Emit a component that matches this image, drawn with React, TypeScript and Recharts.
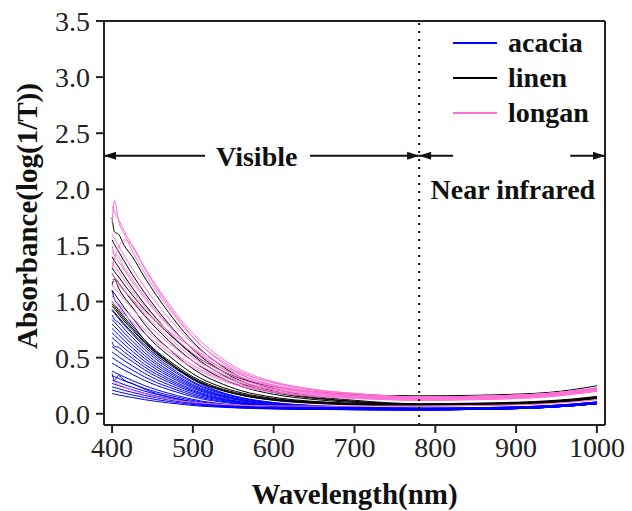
import React from "react";
import { LineChart, Line, XAxis, YAxis, ReferenceLine, ReferenceDot, Legend } from "recharts";

if (typeof document !== "undefined") document.body.style.margin = "0";

const FONT = "'Liberation Serif', 'Times New Roman', serif";

// wavelength grid (nm)
const wavelengths = [400, 403, 408, 415, 425, 440, 455, 470, 490, 510, 530, 560, 600, 650, 700, 780, 850, 900, 940, 970, 1000];

// acacia spectra
const acacia = [
  [0.92, 0.894, 0.85, 0.79, 0.711, 0.598, 0.502, 0.424, 0.328, 0.25, 0.198, 0.141, 0.098, 0.072, 0.059, 0.05, 0.054, 0.061, 0.072, 0.086, 0.105],
  [0.88, 0.84, 0.814, 0.756, 0.681, 0.573, 0.482, 0.407, 0.316, 0.241, 0.191, 0.137, 0.096, 0.071, 0.058, 0.05, 0.054, 0.061, 0.072, 0.086, 0.105],
  [0.84, 0.816, 0.776, 0.721, 0.649, 0.546, 0.458, 0.387, 0.299, 0.228, 0.18, 0.128, 0.089, 0.065, 0.053, 0.045, 0.049, 0.056, 0.067, 0.081, 0.1],
  [0.8, 0.777, 0.74, 0.687, 0.619, 0.521, 0.438, 0.37, 0.287, 0.219, 0.173, 0.124, 0.087, 0.064, 0.053, 0.045, 0.049, 0.056, 0.067, 0.081, 0.1],
  [0.76, 0.739, 0.703, 0.653, 0.588, 0.495, 0.417, 0.352, 0.274, 0.209, 0.167, 0.12, 0.084, 0.063, 0.052, 0.045, 0.049, 0.056, 0.067, 0.081, 0.1],
  [0.72, 0.7, 0.666, 0.619, 0.558, 0.47, 0.396, 0.335, 0.261, 0.2, 0.16, 0.116, 0.082, 0.062, 0.052, 0.045, 0.049, 0.056, 0.067, 0.081, 0.1],
  [0.68, 0.661, 0.629, 0.584, 0.526, 0.443, 0.373, 0.315, 0.245, 0.187, 0.149, 0.107, 0.075, 0.056, 0.046, 0.04, 0.044, 0.051, 0.062, 0.076, 0.095],
  [0.64, 0.6, 0.592, 0.55, 0.496, 0.418, 0.352, 0.298, 0.232, 0.178, 0.142, 0.103, 0.073, 0.055, 0.046, 0.04, 0.044, 0.051, 0.062, 0.076, 0.095],
  [0.6, 0.583, 0.555, 0.516, 0.466, 0.393, 0.331, 0.281, 0.219, 0.169, 0.135, 0.099, 0.071, 0.054, 0.046, 0.04, 0.044, 0.051, 0.062, 0.076, 0.095],
  [0.55, 0.535, 0.509, 0.474, 0.428, 0.361, 0.305, 0.259, 0.203, 0.157, 0.127, 0.094, 0.068, 0.053, 0.045, 0.04, 0.044, 0.051, 0.062, 0.076, 0.095],
  [0.5, 0.486, 0.463, 0.431, 0.39, 0.33, 0.279, 0.238, 0.187, 0.146, 0.118, 0.088, 0.065, 0.052, 0.045, 0.04, 0.044, 0.051, 0.062, 0.076, 0.095],
  [0.45, 0.438, 0.417, 0.389, 0.352, 0.298, 0.253, 0.216, 0.171, 0.134, 0.11, 0.083, 0.063, 0.05, 0.044, 0.04, 0.044, 0.051, 0.062, 0.076, 0.095],
  [0.38, 0.37, 0.352, 0.328, 0.297, 0.252, 0.214, 0.183, 0.145, 0.114, 0.094, 0.071, 0.054, 0.044, 0.038, 0.035, 0.039, 0.046, 0.057, 0.071, 0.09],
  [0.34, 0.331, 0.316, 0.294, 0.267, 0.227, 0.194, 0.166, 0.133, 0.105, 0.087, 0.067, 0.052, 0.043, 0.038, 0.035, 0.039, 0.046, 0.057, 0.071, 0.09],
  [0.3, 0.292, 0.279, 0.26, 0.236, 0.202, 0.173, 0.149, 0.12, 0.096, 0.08, 0.063, 0.05, 0.042, 0.038, 0.035, 0.039, 0.046, 0.057, 0.071, 0.09],
  [0.27, 0.263, 0.251, 0.235, 0.214, 0.183, 0.157, 0.136, 0.11, 0.089, 0.075, 0.06, 0.048, 0.041, 0.037, 0.035, 0.039, 0.046, 0.057, 0.071, 0.09],
  [0.24, 0.234, 0.224, 0.209, 0.191, 0.164, 0.142, 0.123, 0.101, 0.082, 0.07, 0.057, 0.046, 0.04, 0.037, 0.035, 0.039, 0.046, 0.057, 0.071, 0.09],
  [0.21, 0.205, 0.196, 0.184, 0.168, 0.145, 0.126, 0.11, 0.091, 0.075, 0.065, 0.053, 0.045, 0.039, 0.037, 0.035, 0.039, 0.046, 0.057, 0.071, 0.09],
  [0.18, 0.176, 0.168, 0.158, 0.145, 0.126, 0.11, 0.097, 0.081, 0.068, 0.06, 0.05, 0.043, 0.039, 0.036, 0.035, 0.039, 0.046, 0.057, 0.071, 0.09],
  [0.36, 0.3, 0.34, 0.3, 0.27, 0.22, 0.18, 0.152, 0.118, 0.092, 0.076, 0.06, 0.049, 0.042, 0.038, 0.035, 0.039, 0.046, 0.057, 0.071, 0.09],
  [1.1, 1.02, 0.97, 0.9, 0.8, 0.66, 0.55, 0.46, 0.35, 0.265, 0.205, 0.145, 0.1, 0.073, 0.06, 0.05, 0.054, 0.061, 0.072, 0.086, 0.105],
];

// linen spectra
const linen = [
  [1.75, 1.62, 1.6, 1.5, 1.401, 1.219, 1.053, 0.903, 0.721, 0.571, 0.455, 0.322, 0.223, 0.156, 0.12, 0.09, 0.095, 0.103, 0.116, 0.132, 0.155],
  [1.55, 1.506, 1.447, 1.36, 1.242, 1.081, 0.935, 0.803, 0.642, 0.51, 0.407, 0.29, 0.202, 0.144, 0.111, 0.085, 0.09, 0.098, 0.111, 0.127, 0.15],
  [1.4, 1.361, 1.308, 1.229, 1.124, 0.979, 0.848, 0.729, 0.585, 0.466, 0.374, 0.269, 0.19, 0.138, 0.109, 0.085, 0.09, 0.098, 0.111, 0.127, 0.15],
  [1.25, 1.215, 1.168, 1.098, 1.004, 0.876, 0.759, 0.653, 0.525, 0.419, 0.337, 0.244, 0.174, 0.127, 0.101, 0.08, 0.085, 0.093, 0.106, 0.122, 0.145],
  [1.1, 1.069, 1.018, 0.947, 0.855, 0.723, 0.61, 0.519, 0.406, 0.315, 0.253, 0.187, 0.136, 0.106, 0.09, 0.08, 0.085, 0.093, 0.106, 0.122, 0.145],
  [1.0, 0.972, 0.926, 0.862, 0.779, 0.66, 0.558, 0.476, 0.374, 0.292, 0.236, 0.177, 0.131, 0.103, 0.089, 0.08, 0.085, 0.093, 0.106, 0.122, 0.145],
  [0.96, 0.933, 0.889, 0.827, 0.748, 0.633, 0.535, 0.456, 0.358, 0.279, 0.225, 0.168, 0.124, 0.097, 0.084, 0.075, 0.08, 0.088, 0.101, 0.117, 0.14],
  [0.93, 0.904, 0.862, 0.802, 0.725, 0.614, 0.52, 0.443, 0.349, 0.272, 0.22, 0.165, 0.122, 0.096, 0.084, 0.075, 0.08, 0.088, 0.101, 0.117, 0.14],
  [0.98, 0.953, 0.907, 0.844, 0.762, 0.643, 0.543, 0.461, 0.361, 0.279, 0.225, 0.166, 0.12, 0.093, 0.079, 0.07, 0.075, 0.083, 0.096, 0.112, 0.135],
  [1.15, 1.2, 1.12, 1.04, 0.95, 0.8, 0.68, 0.58, 0.455, 0.355, 0.285, 0.205, 0.147, 0.11, 0.093, 0.08, 0.085, 0.093, 0.106, 0.122, 0.145],
  [1.3, 1.266, 1.22, 1.151, 1.059, 0.932, 0.817, 0.714, 0.587, 0.484, 0.403, 0.311, 0.242, 0.196, 0.171, 0.16, 0.165, 0.175, 0.19, 0.215, 0.25],
];

// longan spectra
const longan = [
  [1.85, 1.799, 1.731, 1.629, 1.493, 1.306, 1.136, 0.983, 0.796, 0.643, 0.524, 0.388, 0.286, 0.218, 0.181, 0.15, 0.156, 0.166, 0.182, 0.204, 0.23],
  [1.7, 1.9, 1.72, 1.6, 1.45, 1.26, 1.09, 0.94, 0.76, 0.61, 0.5, 0.37, 0.275, 0.21, 0.175, 0.15, 0.156, 0.166, 0.182, 0.204, 0.23],
  [1.3, 1.38, 1.48, 1.55, 1.5, 1.3, 1.12, 0.96, 0.77, 0.61, 0.49, 0.35, 0.25, 0.19, 0.16, 0.14, 0.146, 0.156, 0.172, 0.194, 0.22],
  [1.6, 1.556, 1.498, 1.41, 1.293, 1.133, 0.987, 0.855, 0.695, 0.563, 0.461, 0.344, 0.257, 0.198, 0.166, 0.14, 0.146, 0.156, 0.172, 0.194, 0.22],
  [1.45, 1.411, 1.358, 1.28, 1.175, 1.031, 0.9, 0.782, 0.638, 0.52, 0.428, 0.323, 0.245, 0.192, 0.164, 0.14, 0.146, 0.156, 0.172, 0.194, 0.22],
  [1.35, 1.314, 1.265, 1.192, 1.095, 0.961, 0.84, 0.73, 0.597, 0.487, 0.402, 0.305, 0.232, 0.184, 0.157, 0.13, 0.136, 0.146, 0.162, 0.184, 0.21],
  [1.25, 1.216, 1.172, 1.104, 1.015, 0.892, 0.78, 0.679, 0.556, 0.455, 0.376, 0.287, 0.22, 0.175, 0.15, 0.13, 0.136, 0.146, 0.162, 0.184, 0.21],
  [1.15, 1.119, 1.079, 1.017, 0.936, 0.824, 0.722, 0.63, 0.518, 0.426, 0.354, 0.273, 0.212, 0.171, 0.148, 0.13, 0.136, 0.146, 0.162, 0.184, 0.21],
  [1.05, 1.022, 0.985, 0.93, 0.856, 0.754, 0.662, 0.578, 0.477, 0.393, 0.329, 0.255, 0.199, 0.162, 0.142, 0.12, 0.126, 0.136, 0.152, 0.174, 0.2],
  [1.5, 1.42, 1.4, 1.3, 1.2, 1.05, 0.91, 0.79, 0.645, 0.525, 0.43, 0.325, 0.245, 0.192, 0.163, 0.14, 0.146, 0.156, 0.172, 0.194, 0.22],
  [1.2, 1.179, 1.148, 1.095, 1.022, 0.917, 0.822, 0.738, 0.633, 0.539, 0.455, 0.36, 0.276, 0.213, 0.182, 0.15, 0.156, 0.166, 0.182, 0.204, 0.23],
  [1.0, 0.974, 0.938, 0.886, 0.815, 0.718, 0.63, 0.551, 0.454, 0.375, 0.314, 0.243, 0.19, 0.155, 0.136, 0.12, 0.126, 0.136, 0.152, 0.174, 0.2],
  [0.3, 0.28, 0.26, 0.24, 0.21, 0.18, 0.15, 0.13, 0.11, 0.095, 0.085, 0.075, 0.07, 0.068, 0.068, 0.07, 0.074, 0.08, 0.09, 0.105, 0.125],
];

const xTicks = [400, 500, 600, 700, 800, 900, 1000];
const yTicks = [0, 0.5, 1, 1.5, 2, 2.5, 3, 3.5];

const groups = [
  { name: "acacia", key: "a", color: "#0000ff", curves: acacia },
  { name: "linen", key: "l", color: "#000000", curves: linen },
  { name: "longan", key: "g", color: "#ff6fd6", curves: longan },
];

const rows = wavelengths.map((w, i) => {
  const r: Record<string, number> = { w };
  groups.forEach((g) => g.curves.forEach((c, j) => (r[g.key + j] = c[i])));
  return r;
});

const ARROW_Y = 2.3;
const DIVIDE = 780;

// line segment with optional arrowheads at either end
const arrowShape = (left: boolean, right: boolean) => (p: any) => {
  const { x1, y1, x2 } = p;
  const y = y1;
  const h = 4, l = 12;
  return (
    <g>
      <line x1={x1} y1={y} x2={x2} y2={y} stroke="#111" strokeWidth={2} />
      {left && <polygon points={`${x1},${y} ${x1 + l},${y - h} ${x1 + l},${y + h}`} fill="#111" />}
      {right && <polygon points={`${x2},${y} ${x2 - l},${y - h} ${x2 - l},${y + h}`} fill="#111" />}
    </g>
  );
};

const LegendBox = () => (
  <div style={{ fontFamily: FONT, fontWeight: "bold", fontSize: 28, color: "#111" }}>
    {groups.map((g) => (
      <div key={g.name} style={{ display: "flex", alignItems: "center", height: 35 }}>
        <span style={{ display: "inline-block", width: 44, height: 2, background: g.color, marginRight: 11 }} />
        <span>{g.name}</span>
      </div>
    ))}
  </div>
);

const tickStyle = { fontFamily: FONT, fontSize: 28, fill: "#222" };

export default function App() {
  return (
    <LineChart width={632} height={511} data={rows} margin={{ top: 21, right: 27, left: 0, bottom: 0 }}>
      <XAxis
        dataKey="w"
        type="number"
        domain={[390, 1010]}
        ticks={xTicks}
        tick={tickStyle}
        tickSize={8}
        tickMargin={4}
        height={86}
        stroke="#222"
        strokeWidth={2}
        allowDataOverflow
        label={{ value: "Wavelength(nm)", position: "center", dy: 26, fontFamily: FONT, fontSize: 29, fontWeight: "bold", fill: "#111" }}
      />
      <YAxis
        type="number"
        domain={[-0.1, 3.5]}
        ticks={yTicks}
        tickFormatter={(v: number) => v.toFixed(1)}
        tick={tickStyle}
        tickSize={8}
        tickMargin={6}
        width={104}
        stroke="#222"
        strokeWidth={2}
        allowDataOverflow
        label={{ value: "Absorbance(log(1/T))", angle: -90, position: "center", dx: -25, dy: -7, fontFamily: FONT, fontSize: 29, fontWeight: "bold", fill: "#111" }}
      />
      <ReferenceLine y={3.5} stroke="#222" strokeWidth={2} />
      <ReferenceLine x={1010} stroke="#222" strokeWidth={2} />
      {groups.map((g) =>
        g.curves.map((_, j) => (
          <Line
            key={g.key + j}
            dataKey={g.key + j}
            type="monotone"
            stroke={g.color}
            strokeWidth={1}
            dot={false}
            legendType="none"
            isAnimationActive={false}
          />
        ))
      )}
      <ReferenceLine x={DIVIDE} stroke="#111" strokeWidth={2} strokeDasharray="2 6" />
      <ReferenceLine segment={[{ x: 390, y: ARROW_Y }, { x: 515, y: ARROW_Y }]} shape={arrowShape(true, false)} />
      <ReferenceLine segment={[{ x: 645, y: ARROW_Y }, { x: DIVIDE, y: ARROW_Y }]} shape={arrowShape(false, true)} />
      <ReferenceLine segment={[{ x: DIVIDE, y: ARROW_Y }, { x: 822, y: ARROW_Y }]} shape={arrowShape(true, false)} />
      <ReferenceLine segment={[{ x: 967, y: ARROW_Y }, { x: 1010, y: ARROW_Y }]} shape={arrowShape(false, true)} />
      <ReferenceDot
        x={579}
        y={ARROW_Y}
        r={0}
        stroke="none"
        label={{ value: "Visible", position: "center", fontFamily: FONT, fontSize: 28, fontWeight: "bold", fill: "#111" }}
      />
      <ReferenceDot
        x={896}
        y={2.0}
        r={0}
        stroke="none"
        label={{ value: "Near infrared", position: "center", fontFamily: FONT, fontSize: 28, fontWeight: "bold", fill: "#111" }}
      />
      <Legend
        layout="vertical"
        align="center"
        verticalAlign="middle"
        content={<LegendBox />}
        wrapperStyle={{ top: 25, left: 453, width: 160 }}
      />
    </LineChart>
  );
}
